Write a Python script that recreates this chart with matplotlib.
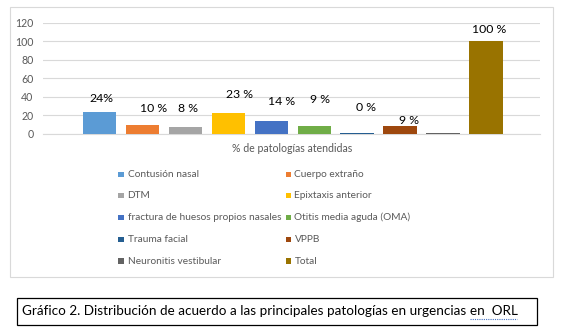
import matplotlib
matplotlib.use("Agg")
import matplotlib.pyplot as plt
from matplotlib.patches import Rectangle
from matplotlib.lines import Line2D

plt.rcParams['font.family'] = ['Lato', 'DejaVu Sans']

# Data
series = ["Contusión nasal", "Cuerpo extraño", "DTM", "Epixtaxis anterior",
          "fractura de huesos propios nasales", "Otitis media aguda (OMA)",
          "Trauma facial", "VPPB", "Neuronitis vestibular", "Total"]
values = [24, 10, 8, 23, 14, 9, 1, 9, 1.5, 100]
value_labels = ["24%", "10 %", "8 %", "23 %", "14 %", "9 %", "0 %", "9 %", "", "100 %"]
colors = ["#5B9BD5", "#ED7D31", "#A5A5A5", "#FFC000", "#4472C4", "#70AD47",
          "#255E91", "#9E480E", "#636363", "#997300"]
yticks = [0, 20, 40, 60, 80, 100, 120]
axis_title = "% de patologías atendidas"
caption_head = "Gráfico 2. Distribución de acuerdo a las principales patologías en urgencias"
caption_tail = "en  ORL"

# Hand-placed data label positions (label y in data units, x shift in bar units)
label_y = [38, 27, 27, 42, 35, 37, 29, 14.5, 0, 112]
label_dx = [0.03, 0.25, 0.06, 0.26, 0.23, 0.14, 0.21, 0.21, 0, 0.08]

W, H = 564, 331
fig = plt.figure(figsize=(W / 100, H / 100), dpi=100)
fig.patch.set_facecolor("white")


def fx(x):
    return x / W


def fy(y):
    return 1 - y / H


# Chart area frame
fig.add_artist(Rectangle((fx(10), fy(277)), fx(553) - fx(10), fy(7) - fy(277),
                         transform=fig.transFigure, fill=False,
                         edgecolor="#D9D9D9", linewidth=0.8))

ax = fig.add_axes([fx(43), fy(134), fx(540) - fx(43), fy(22.5) - fy(134)])
for i, (v, c) in enumerate(zip(values, colors)):
    ax.bar(i, v, width=0.78, color=c, zorder=3)
    if value_labels[i]:
        ax.text(i + label_dx[i], label_y[i], value_labels[i], ha="center",
                va="center", fontsize=8.8, color="black", zorder=4)

ax.set_xlim(-1.32, 10.26)
ax.set_ylim(0, 120)
ax.set_yticks(yticks)
ax.set_yticklabels([str(t) for t in yticks], fontsize=7.6, color="#595959")
ax.tick_params(axis="y", length=0, pad=7)
ax.set_xticks([])
ax.grid(axis="y", color="#D9D9D9", linewidth=0.8, zorder=0)
for s in ["top", "right", "left"]:
    ax.spines[s].set_visible(False)
ax.spines["bottom"].set_color("#D9D9D9")
ax.spines["bottom"].set_linewidth(0.8)

fig.text(fx(292.5), fy(149), axis_title, ha="center", va="center",
         fontsize=7.6, color="#595959")

# Legend, two columns
row_y = [174.3, 195.7, 217.5, 239.3, 261]
col_marker_x = [121, 288.3]
col_text_x = [127.5, 294.5]
for k, (name, c) in enumerate(zip(series, colors)):
    r, col = divmod(k, 2)
    y = row_y[r]
    mx = col_marker_x[col]
    fig.add_artist(Rectangle((fx(mx - 2.8), fy(y + 2.8)), 5.6 / W, 5.6 / H,
                             transform=fig.transFigure, color=c, linewidth=0))
    fig.text(fx(col_text_x[col]), fy(y), name, ha="left", va="center",
             fontsize=7.3, color="#595959")

# Caption box
fig.add_artist(Rectangle((fx(16.5), fy(325)), fx(537) - fx(16.5), fy(298) - fy(325),
                         transform=fig.transFigure, fill=False,
                         edgecolor="black", linewidth=0.9))
cap_size = 9.7
head = fig.text(fx(22), fy(311), caption_head, ha="left", va="center",
                fontsize=cap_size, color="black")
renderer = fig.canvas.get_renderer()
head_box = head.get_window_extent(renderer)
space_w = cap_size * 100 / 72 * 0.25
tail_x = head_box.x1 + space_w
tail = fig.text(tail_x / W, fy(311), caption_tail, ha="left", va="center",
                fontsize=cap_size, color="black")
tail_box = tail.get_window_extent(renderer)
fig.add_artist(Line2D([tail_box.x0 / W, tail_box.x1 / W], [fy(318.5), fy(318.5)],
                      transform=fig.transFigure, color="#4472C4",
                      linewidth=0.8, linestyle=(0, (1, 1))))

fig.savefig("out.png", dpi=100)
